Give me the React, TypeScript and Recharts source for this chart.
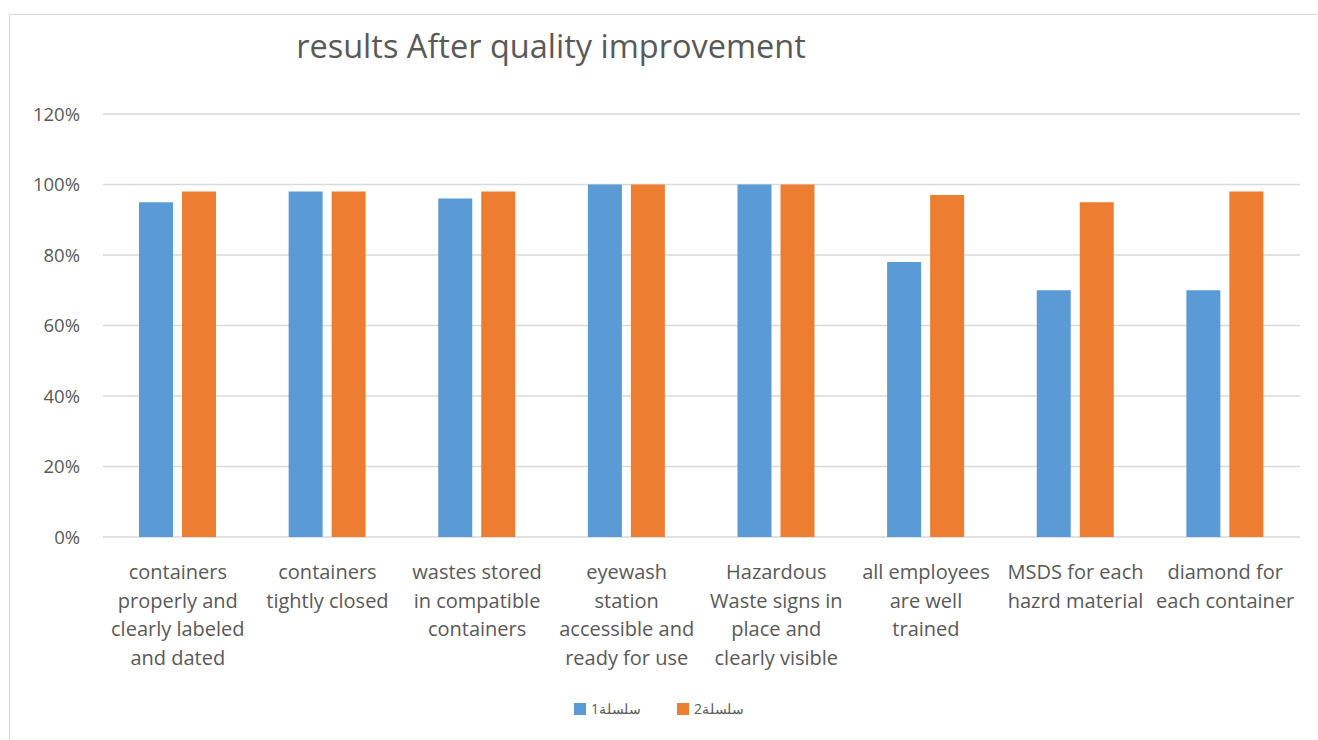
import { BarChart, Bar, XAxis, YAxis, CartesianGrid, Legend } from "recharts";

const categories = [
  "containers properly and clearly labeled and dated",
  "containers tightly closed",
  "wastes stored in compatible containers",
  "eyewash station accessible and ready for use",
  "Hazardous Waste signs in place and clearly visible",
  "all employees are well trained",
  "MSDS for each hazrd material",
  "diamond for each container",
];

// wrapped lines as drawn under each category
const tickLines = [
  ["containers", "properly and", "clearly labeled", "and dated"],
  ["containers", "tightly closed"],
  ["wastes stored", "in compatible", "containers"],
  ["eyewash", "station", "accessible and", "ready for use"],
  ["Hazardous", "Waste signs in", "place and", "clearly visible"],
  ["all employees", "are well", "trained"],
  ["MSDS for each", "hazrd material"],
  ["diamond for", "each container"],
];

const series1 = [0.95, 0.98, 0.96, 1.0, 1.0, 0.78, 0.7, 0.7];
const series2 = [0.98, 0.98, 0.98, 1.0, 1.0, 0.97, 0.95, 0.98];
const yTicks = [0, 0.2, 0.4, 0.6, 0.8, 1.0, 1.2];

const TEXT = "#595959";
const FONT = "'Open Sans', sans-serif";

const data = categories.map((name, i) => ({
  name,
  s1: series1[i],
  s2: series2[i],
}));

const CategoryTick = (props: any) => {
  const { x, y, payload } = props;
  const lines = tickLines[payload.index] || [payload.value];
  return (
    <text x={x} y={y} textAnchor="middle" fill={TEXT} fontSize={20} fontFamily={FONT}>
      {lines.map((l, i) => (
        <tspan key={i} x={x} dy={i === 0 ? 40 : 28.7}>
          {l}
        </tspan>
      ))}
    </text>
  );
};

const LegendContent = () => (
  <div
    style={{
      display: "flex",
      justifyContent: "center",
      gap: 36,
      fontFamily: FONT,
      fontSize: 14,
      color: TEXT,
    }}
  >
    {[
      { label: "سلسلة1", color: "#5B9BD5" },
      { label: "سلسلة2", color: "#ED7D31" },
    ].map((item) => (
      <div key={item.label} style={{ display: "flex", alignItems: "center", gap: 5 }}>
        <span style={{ width: 12, height: 12, background: item.color, display: "inline-block" }} />
        <span>{item.label}</span>
      </div>
    ))}
  </div>
);

export default function App() {
  return (
    <div style={{ position: "absolute", left: 0, top: 0, width: 1318, height: 740, overflow: "hidden", background: "#fff" }}>
      <div
        style={{
          position: "absolute",
          left: 9,
          top: 14,
          width: 1330,
          height: 760,
          border: "1px solid #d9d9d9",
        }}
      />
      <div
        style={{
          position: "absolute",
          left: 0,
          width: 1102,
          top: 23,
          textAlign: "center",
          fontFamily: FONT,
          fontSize: 32.5,
          color: TEXT,
        }}
      >
        results After quality improvement
      </div>
      <div style={{ position: "absolute", left: 0, top: 0 }}>
        <BarChart
          width={1318}
          height={740}
          data={data}
          margin={{ top: 114, right: 18, left: 0, bottom: 53 }}
          barGap={9}
          barSize={34}
        >
          <CartesianGrid vertical={false} stroke="#d9d9d9" strokeWidth={1.5} />
          <XAxis
            dataKey="name"
            axisLine={false}
            tickLine={false}
            tickSize={0}
            height={150}
            interval={0}
            tick={<CategoryTick />}
          />
          <YAxis
            width={103}
            domain={[0, 1.2]}
            ticks={yTicks}
            axisLine={false}
            tickLine={false}
            tickSize={0}
            tickMargin={23}
            tickFormatter={(v: number) => `${Math.round(v * 100)}%`}
            tick={{ fill: TEXT, fontSize: 18.5, fontFamily: FONT }}
          />
          <Legend
            layout="horizontal"
            verticalAlign="middle"
            align="center"
            content={<LegendContent />}
            wrapperStyle={{ top: 699, left: 0, width: 1318 }}
          />
          <Bar dataKey="s1" name="سلسلة1" fill="#5B9BD5" isAnimationActive={false} />
          <Bar dataKey="s2" name="سلسلة2" fill="#ED7D31" isAnimationActive={false} />
        </BarChart>
      </div>
    </div>
  );
}
